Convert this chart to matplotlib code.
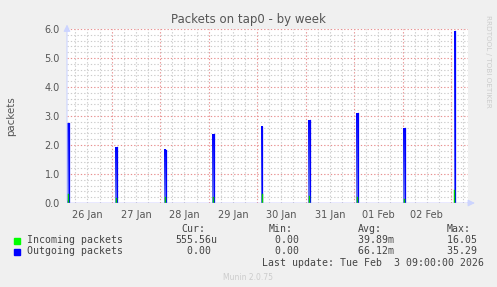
import numpy as np
import matplotlib
matplotlib.use("Agg")
import matplotlib.pyplot as plt
from matplotlib.colors import LinearSegmentedColormap

# spike times in days after 26 Jan 00:00, values in packets/s
spike_days = [0.105, 1.095, 2.105, 3.095, 4.093, 5.074, 6.064, 7.033, 8.07]
outgoing = [2.75, 1.93, 1.83, 2.37, 2.63, 2.86, 3.09, 2.58, 5.93]
incoming = [0.30, 0.18, 0.20, 0.22, 0.30, 0.25, 0.22, 0.15, 0.45]
day_labels = ["26 Jan", "27 Jan", "28 Jan", "29 Jan", "30 Jan", "31 Jan", "01 Feb", "02 Feb"]
y_ticks = [0.0, 1.0, 2.0, 3.0, 4.0, 5.0, 6.0]

legend_names = ["Incoming packets", "Outgoing packets"]
legend_colors = ["#00ff00", "#0000ff"]
cur = ["555.56u", "  0.00 "]
mins = ["  0.00 ", "  0.00 "]
avgs = [" 39.89m", " 66.12m"]
maxs = [" 16.05 ", " 35.29 "]

W, H = 497, 287
fig = plt.figure(figsize=(W / 100, H / 100), dpi=100, facecolor="#f0f0f0")


def fx(px):
    return px / W


def fy(py):
    return 1 - py / H


ax = fig.add_axes([fx(67), fy(203), fx(468) - fx(67), fy(29) - fy(203)])
ax.set_facecolor("white")
x0, x1 = 0.078, 8.35

# grid
dots = (0, (1.2, 1.8))
for d in np.arange(0, 9, 0.25):
    if x0 < d < x1:
        major = abs(d - round(d)) < 1e-6
        ax.axvline(d, color="#e89090" if major else "#cccccc", lw=0.8,
                   ls=dots, zorder=1)
for v in np.arange(0.2, 6.01, 0.2):
    major = abs(v - round(v)) < 1e-6
    ax.axhline(v, color="#e89090" if major else "#cccccc", lw=0.8,
               ls=dots, zorder=1)

# outgoing spikes with gradient fill
cmap = LinearSegmentedColormap.from_list("g", ["#7080f0", "#0000ff"])
grad = np.linspace(0, 1, 64).reshape(-1, 1)
w = 0.035
for t, h in zip(spike_days, outgoing):
    ax.imshow(grad, cmap=cmap, origin="lower", aspect="auto",
              extent=(t - w / 2, t + w / 2, 0, h), zorder=3)
    ax.plot([t + w / 2, t + w / 2], [0, h], color="#0000ff", lw=0.9, zorder=4)
for t, h in zip(spike_days, incoming):
    ax.plot([t, t], [0, h], color="#00cc00", lw=1.0, zorder=5)
ax.set_xlim(x0, x1)
ax.set_ylim(0, 6.0)
ax.axhline(0, color="#9090ff", lw=1.0, zorder=6)

for s in ax.spines.values():
    s.set_visible(False)
ax.annotate("", xy=(x1 + 0.2, 0), xytext=(x1 - 0.05, 0),
            arrowprops=dict(arrowstyle="-|>", color="#ccd4ff", lw=0.8),
            annotation_clip=False)
ax.annotate("", xy=(x0, 6.25), xytext=(x0, 0),
            arrowprops=dict(arrowstyle="-|>", color="#ccd4ff", lw=0.8),
            annotation_clip=False)

ax.set_yticks(y_ticks)
ax.set_yticklabels([f"{v:.1f}" for v in y_ticks])
ax.set_xticks([i + 0.5 for i in range(len(day_labels))])
ax.set_xticklabels(day_labels)
ax.tick_params(axis="both", length=0, labelsize=7, colors="#555555")
ax.tick_params(axis="y", pad=5)
ax.tick_params(axis="x", pad=5)

fig.text(fx(248), fy(19), "Packets on tap0 - by week", ha="center", va="center",
         fontsize=8.5, color="#555555")
fig.text(fx(11), fy(116), "packets", rotation=90, ha="center", va="center",
         fontsize=7.4, color="#555555")
fig.text(fx(488), fy(15), "RRDTOOL / TOBI OETIKER", rotation=270, ha="center",
         va="top", fontsize=5.2, color="#cccccc")

mono = dict(family="DejaVu Sans Mono", fontsize=7.1, color="#444444", va="center")
fig.text(fx(181), fy(229), "Cur:", **mono)
fig.text(fx(269), fy(229), "Min:", **mono)
fig.text(fx(358), fy(229), "Avg:", **mono)
fig.text(fx(447), fy(229), "Max:", **mono)
for i, yy in enumerate([240, 251]):
    fig.patches.append(plt.Rectangle((fx(14), fy(yy + 3.5)), fx(6), 6 / H,
                                     color=legend_colors[i], transform=fig.transFigure))
    fig.text(fx(27), fy(yy), legend_names[i], **mono)
    fig.text(fx(175), fy(yy), cur[i], **mono)
    fig.text(fx(263), fy(yy), mins[i], **mono)
    fig.text(fx(352), fy(yy), avgs[i], **mono)
    fig.text(fx(441), fy(yy), maxs[i], **mono)
fig.text(fx(262), fy(263), "Last update: Tue Feb  3 09:00:00 2026", **mono)
fig.text(fx(248), fy(277), "Munin 2.0.75", ha="center", va="center",
         fontsize=5.5, color="#cccccc")

fig.savefig("out.png", dpi=100, facecolor=fig.get_facecolor())
